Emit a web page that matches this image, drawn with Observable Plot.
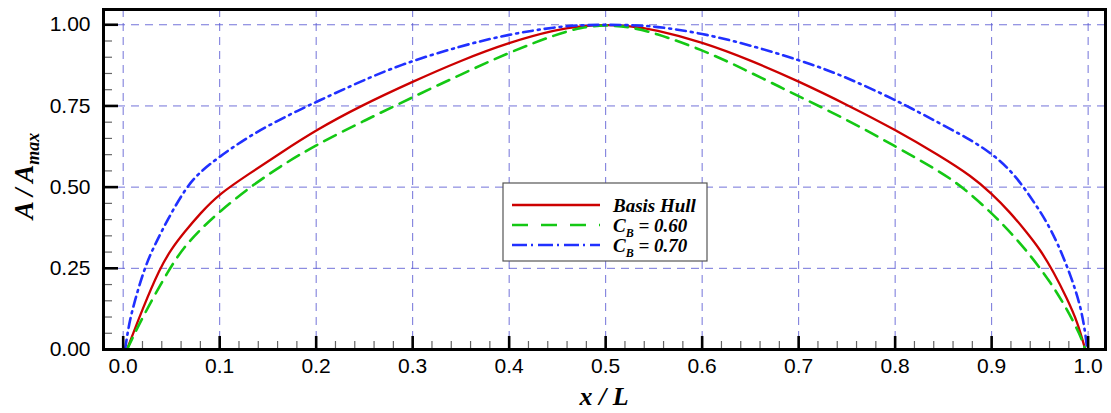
<!DOCTYPE html>
<html>
<head>
<meta charset="utf-8">
<script src="https://cdn.jsdelivr.net/npm/d3@7"></script>
<script src="https://cdn.jsdelivr.net/npm/@observablehq/plot@0.6"></script>
<style>
  html, body { margin: 0; padding: 0; background: white; }
</style>
</head>
<body>
<script>
// Sectional area curves A/Amax along the hull length x/L
const basisHull = [
  [0.004, 0], [0.02, 0.125], [0.038, 0.25], [0.05, 0.31], [0.063, 0.36], [0.08, 0.42],
  [0.1, 0.48], [0.13, 0.54], [0.163, 0.605], [0.2, 0.676], [0.246, 0.75], [0.3, 0.825],
  [0.35, 0.89], [0.4, 0.946], [0.45, 0.986], [0.475, 0.996], [0.5, 1.0], [0.525, 0.996],
  [0.55, 0.986], [0.6, 0.947], [0.65, 0.891], [0.7, 0.826], [0.75, 0.754], [0.8, 0.677],
  [0.846, 0.597], [0.88, 0.532], [0.9, 0.48], [0.919, 0.423], [0.936, 0.362], [0.95, 0.309],
  [0.964, 0.24], [0.978, 0.158], [0.989, 0.085], [0.997, 0]
];
const cb060 = [
  [0.004, 0], [0.02, 0.1], [0.048, 0.25], [0.063, 0.315], [0.08, 0.37], [0.1, 0.425],
  [0.129, 0.495], [0.163, 0.565], [0.2, 0.63], [0.25, 0.705], [0.3, 0.777], [0.35, 0.847],
  [0.4, 0.915], [0.45, 0.972], [0.475, 0.992], [0.5, 1.0], [0.525, 0.993], [0.55, 0.976],
  [0.6, 0.923], [0.64, 0.868], [0.7, 0.78], [0.75, 0.708], [0.8, 0.626], [0.846, 0.549],
  [0.87, 0.5], [0.9, 0.421], [0.923, 0.35], [0.942, 0.283], [0.961, 0.207], [0.976, 0.135],
  [0.992, 0.045], [0.997, 0]
];
const cb070 = [
  [0.002, 0], [0.006, 0.08], [0.012, 0.15], [0.022, 0.25], [0.032, 0.318], [0.046, 0.4],
  [0.065, 0.499], [0.08, 0.548], [0.1, 0.594], [0.122, 0.64], [0.149, 0.688], [0.184, 0.74],
  [0.2, 0.762], [0.236, 0.812], [0.287, 0.878], [0.35, 0.935], [0.4, 0.971], [0.45, 0.994],
  [0.475, 0.999], [0.5, 1.0], [0.525, 0.999], [0.55, 0.996], [0.6, 0.974], [0.65, 0.937],
  [0.7, 0.892], [0.744, 0.846], [0.8, 0.769], [0.83, 0.722], [0.879, 0.645], [0.9, 0.603],
  [0.916, 0.562], [0.931, 0.51], [0.947, 0.44], [0.957, 0.393], [0.968, 0.33],
  [0.982, 0.228], [0.992, 0.136], [0.997, 0.054], [0.999, 0]
];

// Tick values
const xMajor = [0, 0.1, 0.2, 0.3, 0.4, 0.5, 0.6, 0.7, 0.8, 0.9, 1.0];
const xMinor = d3.range(0, 51).map(i => i / 50).filter(v => Math.round(v * 50) % 5 !== 0);
const yMajor = [0, 0.25, 0.5, 0.75, 1.0];
const yMinor = d3.range(0, 21).map(i => i / 20).filter(v => Math.round(v * 20) % 5 !== 0);

// Series styling
const series = [
  {name: "Basis Hull", data: basisHull, stroke: "#cc0000", dash: null, legendDash: null, width: 2.3},
  {name: "C_B = 0.60", data: cb060, stroke: "#14c814", dash: "13,8", legendDash: "16,13", width: 2.6},
  {name: "C_B = 0.70", data: cb070, stroke: "#2030ff", dash: "10,5,2,5", legendDash: "15,4,2,5", width: 2.6}
];

const W = 1111, H = 413;
const mL = 103, mR = 6, mT = 9, mB = 64;
const innerW = W - mL - mR, innerH = H - mT - mB;
const gridColor = "#5a5ad2";

const svg = Plot.plot({
  width: W, height: H,
  marginLeft: mL, marginRight: mR, marginTop: mT, marginBottom: mB,
  style: {fontFamily: "'Liberation Sans', Arial, sans-serif", fontSize: "21px", color: "black", background: "white"},
  x: {domain: [-0.0204, 1.018]},
  y: {domain: [0, 1.047]},
  marks: [
    Plot.ruleX(xMajor, {stroke: gridColor, strokeOpacity: 0.85, strokeWidth: 1, strokeDasharray: "8,6"}),
    Plot.ruleY(yMajor, {stroke: gridColor, strokeOpacity: 0.85, strokeWidth: 1, strokeDasharray: "8,6"}),
    ...series.map(s => Plot.line(s.data, {
      x: d => d[0], y: d => d[1], stroke: s.stroke, strokeWidth: s.width,
      strokeDasharray: s.dash, curve: "basis"
    })),
    // inward ticks on the bottom and left edges
    Plot.ruleX(xMinor, {insetTop: innerH - 8, stroke: "#666", strokeWidth: 1.2}),
    Plot.ruleX(xMajor, {insetTop: innerH - 13, stroke: "black", strokeWidth: 2.6}),
    Plot.ruleY(yMinor, {insetRight: innerW - 9, stroke: "#666", strokeWidth: 1.2}),
    Plot.ruleY(yMajor, {insetRight: innerW - 15, stroke: "black", strokeWidth: 2.6}),
    Plot.axisX(xMajor, {tickSize: 0, tickPadding: 9, tickFormat: d3.format(".1f"), label: null}),
    Plot.axisY(yMajor, {tickSize: 0, tickPadding: 13, tickFormat: d3.format(".2f"), label: null}),
    Plot.frame({stroke: "black", strokeWidth: 3})
  ]
});

const root = d3.select(svg);
const serif = "'Liberation Serif', 'Times New Roman', serif";

// Axis titles
root.append("text")
  .attr("x", mL + innerW / 2).attr("y", 405)
  .attr("text-anchor", "middle")
  .attr("font-family", serif).attr("font-weight", "bold").attr("font-style", "italic")
  .attr("font-size", 26).attr("fill", "black")
  .text("x / L");

const yTitle = root.append("text")
  .attr("transform", "translate(33,176) rotate(-90)")
  .attr("text-anchor", "middle")
  .attr("font-family", serif).attr("font-weight", "bold").attr("font-style", "italic")
  .attr("font-size", 27).attr("fill", "black");
yTitle.append("tspan").text("A / A");
yTitle.append("tspan").attr("font-size", 18).attr("dy", 6).text("max");

// Legend box
const lg = root.append("g");
lg.append("rect").attr("x", 503).attr("y", 183).attr("width", 204).attr("height", 78)
  .attr("fill", "white").attr("stroke", "#555").attr("stroke-width", 1.2);
const rowsY = [205, 225, 245];
series.forEach((s, i) => {
  const y = rowsY[i];
  lg.append("line").attr("x1", 512).attr("x2", 600).attr("y1", y).attr("y2", y)
    .attr("stroke", s.stroke).attr("stroke-width", s.width)
    .attr("stroke-dasharray", s.legendDash);
  const t = lg.append("text").attr("x", 613).attr("y", y + 7)
    .attr("text-anchor", "start")
    .attr("font-family", serif).attr("font-weight", "bold").attr("font-style", "italic")
    .attr("font-size", 19).attr("fill", "black");
  if (s.name.startsWith("C_B")) {
    t.append("tspan").text("C");
    t.append("tspan").attr("font-size", 12).attr("dy", 5).text("B");
    t.append("tspan").attr("dy", -5).text(s.name.slice(3));
  } else {
    t.text(s.name);
  }
});

document.body.appendChild(svg);
</script>
</body>
</html>
